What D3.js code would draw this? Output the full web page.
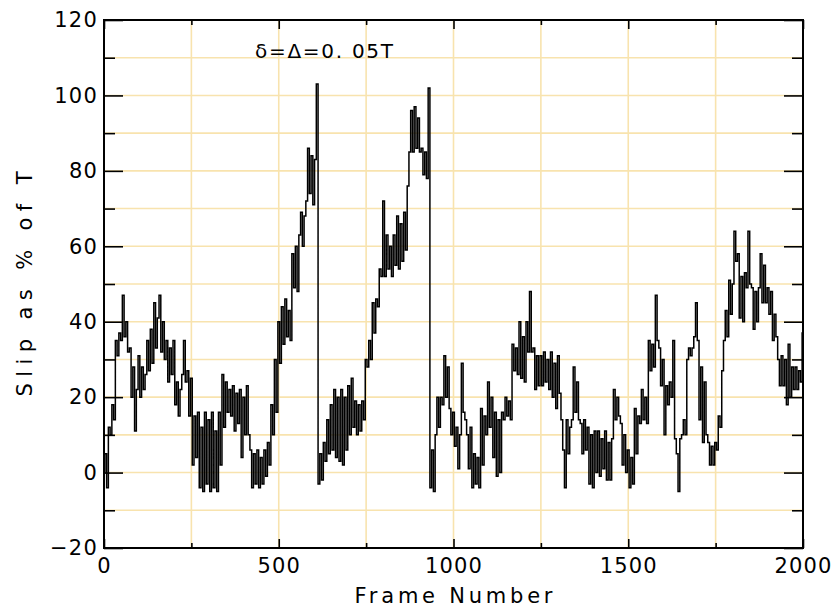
<!DOCTYPE html>
<html>
<head>
<meta charset="utf-8">
<script src="https://cdn.jsdelivr.net/npm/d3@7"></script>
<style>
  body { margin: 0; background: #fff; }
  text { font-family: "DejaVu Sans", sans-serif; fill: #000; }
</style>
</head>
<body>
<div id="chart"></div>
<script>
// slip readings, one every 5 frames (0..2000) (alternating top / bottom of the trace)
var frameStep = 5;
var slip = [
    0, 5, -4, 12, 10, 18, 14, 35, 31, 37,
    35, 47, 36, 40, 32, 33, 20, 28, 11, 22,
    31, 20, 28, 22, 26, 35, 27, 38, 29, 45,
    33, 41, 47, 32, 40, 30, 35, 24, 33, 26,
    35, 18, 24, 15, 22, 26, 35, 24, 27, 15,
    25, 2, 15, 4, 16, -4, 12, -5, 16, -3,
    14, -5, 16, -4, 11, -5, 16, 2, 26, 12,
    24, 16, 22, 15, 23, 11, 21, 13, 22, 4,
    20, 10, 23, 10, 6, -4, 5, -3, 6, -4,
    4, -3, 6, -1, 8, 2, 18, 10, 30, 16,
    40, 29, 44, 34, 46, 36, 43, 35, 58, 49,
    60, 48, 63, 69, 60, 68, 72, 86, 74, 84,
    71, 83, 103, -3, 5, -2, 8, 3, 14, 5,
    18, 6, 22, 4, 20, 3, 22, 2, 20, 6,
    23, 10, 25, 12, 19, 10, 18, 11, 19, 14,
    30, 28, 35, 30, 45, 37, 46, 44, 54, 52,
    72, 52, 63, 54, 60, 52, 63, 55, 68, 54,
    66, 56, 69, 59, 76, 85, 96, 85, 97, 86,
    94, 85, 86, 79, 85, 78, 102, -4, 6, -5,
    10, 20, 12, 20, 18, 31, 20, 28, 17, 10,
    16, 7, 12, 1, 10, 29, 16, 14, 10, 1,
    12, -4, 5, -3, 4, -4, 17, 2, 15, 10,
    24, 12, 20, 4, 16, -1, 14, 0, 16, 14,
    20, 15, 19, 14, 34, 27, 33, 26, 40, 25,
    36, 24, 40, 32, 48, 32, 33, 22, 31, 23,
    31, 23, 32, 24, 30, 22, 32, 20, 29, 17,
    31, 21, 14, 6, -4, 14, 5, 12, 14, 28,
    16, 24, 14, 13, 5, 14, 6, 12, -3, 10,
    -4, 11, 0, 11, -1, 9, 1, 11, -2, 8,
    -2, 9, 22, 14, 20, 15, 13, 2, 10, 0,
    6, -4, 4, -3, 17, 5, 15, 13, 22, 14,
    20, 13, 35, 27, 34, 28, 47, 35, 33, 23,
    30, 10, 23, 18, 24, 20, 35, 9, 5, -5,
    9, 10, 14, 10, 30, 33, 31, 33, 36, 45,
    35, 14, 28, 8, 24, 10, 8, 2, 7, 2,
    8, 6, 15, 12, 27, 35, 43, 36, 51, 42,
    50, 64, 56, 58, 41, 52, 40, 53, 49, 64,
    50, 49, 38, 48, 40, 49, 58, 45, 55, 45,
    49, 42, 48, 35, 42, 36, 30, 23, 31, 23,
    30, 18, 34, 20, 28, 22, 28, 22, 27, 24,
    37
];

var xMajorTicks = [0, 500, 1000, 1500, 2000];
var xMinorTicks = [250, 750, 1250, 1750];
var yMajorTicks = [-20, 0, 20, 40, 60, 80, 100, 120];
var yMinorTicks = [-10, 10, 30, 50, 70, 90, 110];
var xGrid = [250, 500, 750, 1000, 1250, 1500, 1750];
var yGrid = [-10, 0, 10, 20, 30, 40, 50, 60, 70, 80, 90, 100, 110];

var xTitle = "Frame Number";
var yTitle = "Slip as % of T";
var note = "\u03b4=\u0394=0. 05T";

var totalWidth = 837;
var totalHeight = 610;
var margin = { top: 20, right: 34, bottom: 62, left: 104 };
var width = totalWidth - margin.left - margin.right;
var height = totalHeight - margin.top - margin.bottom;

var data = slip.map(function(v, i) {
    return { frame: i * frameStep, slip: v };
});

var svg = d3.select('#chart').append('svg')
    .attr('width', totalWidth)
    .attr('height', totalHeight);

var g = svg.append('g')
    .attr('transform', 'translate(' + margin.left + ',' + margin.top + ')');

var xScale = d3.scaleLinear().domain([0, 2000]).range([0, width]);
var yScale = d3.scaleLinear().domain([-20, 120]).range([height, 0]);

// grid
var gridColor = '#f8e3ae';
g.append('g').selectAll('line.h')
    .data(yGrid).enter().append('line')
    .attr('x1', 0).attr('x2', width)
    .attr('y1', d => yScale(d)).attr('y2', d => yScale(d))
    .attr('stroke', gridColor).attr('stroke-width', 1.6);
g.append('g').selectAll('line.v')
    .data(xGrid).enter().append('line')
    .attr('x1', d => xScale(d)).attr('x2', d => xScale(d))
    .attr('y1', 0).attr('y2', height)
    .attr('stroke', gridColor).attr('stroke-width', 1.6);

// trace
var line = d3.line()
    .x(d => xScale(d.frame))
    .y(d => yScale(d.slip))
    .curve(d3.curveStep);

g.append('path')
    .datum(data)
    .attr('d', line)
    .attr('fill', 'none')
    .attr('stroke', '#000')
    .attr('stroke-width', 1.5);

// axes, ticks pointing inward on all four sides
function styleAxis(sel) {
    sel.selectAll('.domain').remove();
    sel.selectAll('line').attr('stroke', '#000').attr('stroke-width', 1.6);
    sel.selectAll('text').attr('font-size', 21).attr('letter-spacing', 1.2)
        .style('font-family', '"DejaVu Sans", sans-serif');
}

var yLeft = d3.axisLeft(yScale).tickValues(yMajorTicks).tickSize(-19).tickPadding(6)
    .tickFormat(d => d < 0 ? '\u2212' + Math.abs(d) : d);
g.append('g').call(yLeft).call(styleAxis);
g.append('g').call(d3.axisLeft(yScale).tickValues(yMinorTicks).tickSize(-11).tickFormat('')).call(styleAxis);
g.append('g').attr('transform', 'translate(' + width + ',0)')
    .call(d3.axisRight(yScale).tickValues(yMajorTicks).tickSize(-19).tickFormat('')).call(styleAxis);
g.append('g').attr('transform', 'translate(' + width + ',0)')
    .call(d3.axisRight(yScale).tickValues(yMinorTicks).tickSize(-11).tickFormat('')).call(styleAxis);

var xBottom = d3.axisBottom(xScale).tickValues(xMajorTicks).tickSize(-9).tickPadding(10)
    .tickFormat(d3.format('d'));
g.append('g').attr('transform', 'translate(0,' + height + ')').call(xBottom).call(styleAxis);
g.append('g').attr('transform', 'translate(0,' + height + ')')
    .call(d3.axisBottom(xScale).tickValues(xMinorTicks).tickSize(-5).tickFormat('')).call(styleAxis);
g.append('g').call(d3.axisTop(xScale).tickValues(xMajorTicks).tickSize(-9).tickFormat('')).call(styleAxis);
g.append('g').call(d3.axisTop(xScale).tickValues(xMinorTicks).tickSize(-5).tickFormat('')).call(styleAxis);

// frame
g.append('rect')
    .attr('x', 0).attr('y', 0)
    .attr('width', width).attr('height', height)
    .attr('fill', 'none').attr('stroke', '#000').attr('stroke-width', 2);

// titles
g.append('text')
    .attr('x', width / 2).attr('y', height + 55)
    .attr('text-anchor', 'middle')
    .attr('font-size', 21)
    .attr('textLength', 198).attr('lengthAdjust', 'spacing')
    .text(xTitle);

g.append('text')
    .attr('transform', 'translate(' + (-72) + ',' + (height / 2) + ') rotate(-90)')
    .attr('text-anchor', 'middle')
    .attr('font-size', 21)
    .attr('textLength', 225).attr('lengthAdjust', 'spacing')
    .text(yTitle);

g.append('text')
    .attr('x', 151).attr('y', 38)
    .attr('font-size', 20)
    .attr('textLength', 138).attr('lengthAdjust', 'spacing')
    .text(note);
</script>
</body>
</html>
